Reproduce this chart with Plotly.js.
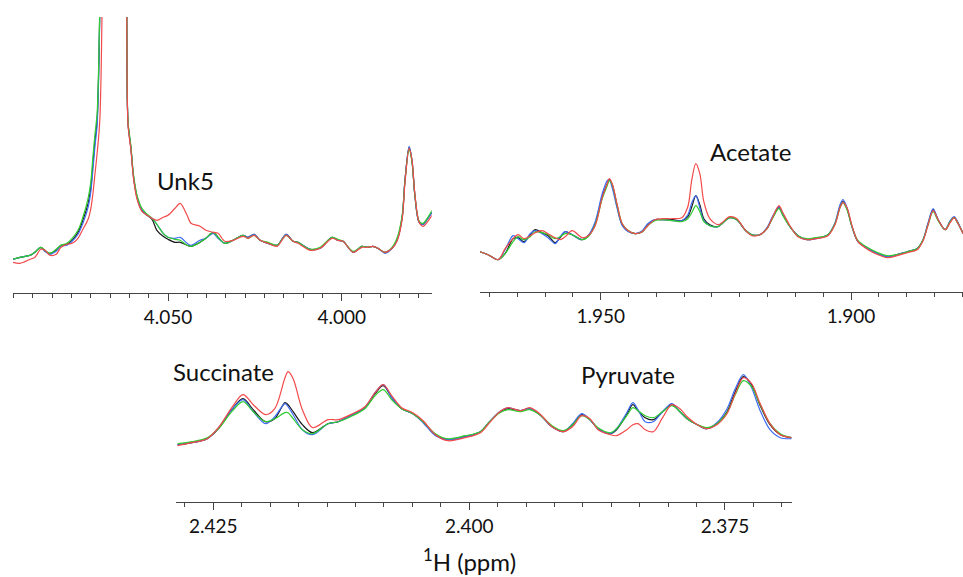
<!DOCTYPE html>
<html>
<head>
<meta charset="utf-8">
<script src="https://cdn.plot.ly/plotly-3.0.1.min.js"></script>
<style>
html,body{margin:0;padding:0;background:#fff;}
#chart{width:963px;height:577px;}
</style>
</head>
<body>
<div id="chart"></div>
<script>
// ---------- Panel 1 : 4.09 – 3.97 ppm (Unk5) ----------
const p1_ppm = [4.0946,4.0926,4.0897,4.0883,4.0866,4.0854,4.0840,4.0822,4.0808,4.0791,4.0776,4.0759,4.0745,4.0730,4.0722,4.0716,4.0710,4.0704,4.0696,4.0684,4.0658,4.0632,4.0619,4.0615,4.0607,4.0599,4.0589,4.0575,4.0560,4.0546,4.0532,4.0514,4.0500,4.0480,4.0465,4.0445,4.0434,4.0408,4.0391,4.0370,4.0356,4.0336,4.0313,4.0284,4.0270,4.0252,4.0235,4.0212,4.0186,4.0160,4.0140,4.0126,4.0091,4.0062,4.0028,4.0011,3.9996,3.9967,3.9942,3.9927,3.9910,3.9896,3.9875,3.9855,3.9841,3.9826,3.9818,3.9806,3.9798,3.9789,3.9777,3.9766,3.9752,3.9740];
const p1_black = [34,36,38,41,46,42,40,43,48,49,53,61,73,90,106,130,153,173,290,700,3000,700,285,170,146,116,96,83,78,74,63,57,54,51,51,48,47,51,55,61,56,50,53,58,56,59,53,50,48,59,52,51,44,45,56,53,52,41,47,46,47,45,41,45,53,76,113,146,133,96,71,69,75,81];
const p1_blue  = [34,36,38,41,46,42,39,42,47,48,52,59,70,86,102,124,148,168,285,700,3000,700,285,170,146,116,96,83,78,75,69,60,56,55,56,50,48,53,55,60,55,50,53,58,56,59,53,50,48,59,52,51,44,45,56,53,52,41,47,46,47,45,40,45,53,76,113,147,134,97,71,69,75,81];
const p1_green = [34,36,38,41,46,43,40,44,48,50,55,63,76,95,112,137,160,180,295,700,3000,700,290,172,148,118,98,85,79,75,69,60,56,54,53,48,47,51,55,61,56,50,53,58,55,58,53,51,48,58,52,51,44,46,56,54,52,42,47,46,47,45,41,46,55,78,112,144,132,97,72,70,76,83];
const p1_red   = [31,30,34,36,44,43,38,39,46,49,50,55,64,74,85,100,120,140,175,500,3000,700,285,168,144,114,94,82,78,75,73,76,78,85,90,78,70,67,63,61,60,52,53,57,55,58,53,50,47,58,52,50,43,45,55,53,52,41,46,46,47,45,41,45,52,74,110,145,134,98,71,67,72,78];

// ---------- Panel 2 : 1.974 – 1.878 ppm (Acetate) ----------
const p2_ppm = [1.9741,1.9725,1.9705,1.9691,1.9675,1.9665,1.9653,1.9641,1.9631,1.9617,1.9605,1.9591,1.9581,1.9571,1.9557,1.9537,1.9525,1.9511,1.9497,1.9487,1.9483,1.9477,1.9467,1.9457,1.9445,1.9431,1.9417,1.9406,1.9392,1.9376,1.9356,1.9338,1.9326,1.9318,1.9310,1.9302,1.9294,1.9282,1.9266,1.9258,1.9242,1.9228,1.9212,1.9198,1.9182,1.9168,1.9156,1.9144,1.9136,1.9122,1.9106,1.9088,1.9072,1.9046,1.9032,1.9022,1.9016,1.9008,1.8998,1.8986,1.8966,1.8946,1.8928,1.8908,1.8888,1.8868,1.8856,1.8846,1.8836,1.8826,1.8812,1.8802,1.8794,1.8786,1.8776];
const p2_black = [40,37,32,38,53,54,50,57,62,59,56,49,54,60,57,52,56,68,95,108,112,107,85,67,61,58,60,67,72,72,72,71,75,85,96,87,73,67,65,68,74,72,62,57,57,63,75,84,77,65,56,52,53,57,68,85,90,83,65,50,43,38,35,37,40,43,52,68,82,72,62,70,74,68,58];
const p2_blue  = [40,37,32,42,56,53,49,58,61,58,54,48,55,60,57,52,56,70,98,111,112,104,83,66,60,58,61,68,72,72,71,71,77,89,96,84,71,66,65,68,74,72,62,57,57,64,76,85,77,65,56,52,53,57,69,87,92,84,65,50,43,38,35,37,40,43,52,69,83,72,62,71,75,69,58];
const p2_green = [40,37,32,38,50,55,52,55,60,59,57,53,55,58,57,52,55,67,93,106,111,107,86,68,61,58,60,66,71,72,71,70,73,79,86,80,70,66,65,68,74,72,62,57,57,63,74,83,76,65,56,53,54,57,68,84,89,82,65,51,44,39,36,37,40,43,52,67,80,71,62,70,74,68,58];
const p2_red   = [40,37,32,43,53,57,53,56,59,61,58,54,52,55,61,54,56,66,94,108,113,108,87,68,61,58,60,66,72,73,73,74,85,112,128,118,90,73,67,69,75,73,62,56,57,63,75,86,79,66,55,52,53,56,67,84,89,84,66,50,42,37,34,36,39,42,51,67,81,72,62,69,74,68,58];

// ---------- Panel 3 : 2.428 – 2.368 ppm (Succinate, Pyruvate) ----------
const p3_ppm = [2.4285,2.4271,2.4256,2.4245,2.4232,2.4221,2.4211,2.4199,2.4190,2.4180,2.4177,2.4172,2.4163,2.4153,2.4138,2.4128,2.4114,2.4102,2.4092,2.4084,2.4075,2.4066,2.4055,2.4045,2.4033,2.4021,2.4004,2.3989,2.3980,2.3970,2.3962,2.3950,2.3941,2.3931,2.3919,2.3908,2.3899,2.3890,2.3882,2.3874,2.3862,2.3856,2.3846,2.3840,2.3835,2.3828,2.3820,2.3811,2.3802,2.3794,2.3787,2.3777,2.3768,2.3758,2.3748,2.3740,2.3732,2.3724,2.3716,2.3706,2.3696,2.3685];
const p3_black = [57,59,63,73,92,103,92,80,83,99,97,90,77,69,78,80,87,94,108,116,103,93,88,80,67,62,65,70,80,90,93,91,93,87,75,70,77,87,82,73,68,72,87,97,91,84,82,90,97,90,83,77,73,78,90,110,125,117,97,77,67,64];
const p3_blue  = [57,59,63,74,92,102,90,78,85,98,95,87,72,67,78,80,87,94,109,117,103,93,88,79,66,62,65,70,80,90,94,91,93,87,75,70,78,88,82,73,68,73,89,99,92,80,80,90,98,90,83,77,73,79,93,113,127,114,92,72,64,63];
const p3_green = [58,60,64,73,90,100,90,80,83,89,89,83,72,68,78,80,86,93,106,112,101,93,88,80,68,63,66,70,80,89,92,90,92,87,76,71,77,86,82,74,69,73,86,94,91,86,84,90,96,90,83,77,74,78,89,107,121,115,98,78,68,64];
const p3_red   = [56,59,63,74,94,107,97,87,93,124,130,123,92,74,82,82,88,95,109,117,105,94,89,81,67,61,64,69,79,90,94,91,94,88,75,70,75,86,83,72,67,66,72,77,78,72,70,84,97,93,85,77,73,77,88,108,124,118,99,78,67,64];

const colors = {black:'#1a1a1a', blue:'#3d6cf2', green:'#2ecc2e', red:'#f24a4a'};
const lw = 1.2;

function traces(ppm, series, xa, ya){
  const order = [['black',series.black],['blue',series.blue],['green',series.green],['red',series.red]];
  return order.map(([c,v]) => ({
    x: ppm, y: v, xaxis: xa, yaxis: ya, type:'scatter', mode:'lines',
    line:{color:colors[c], width:lw, shape:'spline', smoothing:0.9},
    hoverinfo:'skip', showlegend:false
  }));
}

const data = [].concat(
  traces(p1_ppm, {black:p1_black, blue:p1_blue, green:p1_green, red:p1_red}, 'x', 'y'),
  traces(p2_ppm, {black:p2_black, blue:p2_blue, green:p2_green, red:p2_red}, 'x2', 'y2'),
  traces(p3_ppm, {black:p3_black, blue:p3_blue, green:p3_green, red:p3_red}, 'x3', 'y3')
);

const W = 963, H = 577;
const tickFont = {family:'Lato, "Open Sans", sans-serif', size:19, color:'#111'};
function xaxis(left, right, r0, r1, t0, dt, anchor){
  return {
    domain:[left/W, right/W], range:[r0, r1], anchor: anchor,
    showline:true, linecolor:'#444', linewidth:1,
    ticks:'outside', ticklen:7, tickcolor:'#444', tickwidth:1,
    tick0:t0, dtick:dt, tickformat:'.3f', tickfont:tickFont, ticklabelstandoff:0,
    minor:{ticks:'outside', ticklen:4, tickcolor:'#444', tickwidth:1, tick0:t0, dtick:dt/9},
    showgrid:false, zeroline:false, fixedrange:true
  };
}
function yaxis(bottom, top, rmax, anchor){
  return {domain:[1-bottom/H, 1-top/H], range:[0, rmax], visible:false, anchor:anchor, fixedrange:true};
}

const annFont = {family:'Lato, "Open Sans", sans-serif', size:24, color:'#111'};
function ann(text, px, py){
  return {text:text, xref:'paper', yref:'paper', x:px/W, y:1-py/H, xanchor:'center', yanchor:'middle', showarrow:false, font:annFont};
}

const layout = {
  width:W, height:H, margin:{l:0,r:0,t:0,b:0},
  paper_bgcolor:'#fff', plot_bgcolor:'#fff', showlegend:false,
  xaxis: xaxis(12.7, 431.7, 4.0947, 3.9741, 4.0, 0.05, 'y'),
  yaxis: yaxis(293.3, 17, 276.3, 'x'),
  xaxis2: xaxis(480, 963, 1.97411, 1.87763, 1.9, 0.05, 'y2'),
  yaxis2: yaxis(291.7, 17, 274.7, 'x2'),
  xaxis3: xaxis(176, 791.7, 2.42865, 2.36848, 2.4, 0.025, 'y3'),
  yaxis3: yaxis(501.7, 350, 151.7, 'x3'),
  annotations:[
    ann('Unk5', 185.5, 180),
    ann('Acetate', 750.7, 151),
    ann('Succinate', 223.3, 371),
    ann('Pyruvate', 628, 374),
    ann('<sup>1</sup>H (ppm)', 469, 560)
  ]
};

Plotly.newPlot('chart', data, layout, {displayModeBar:false, staticPlot:true});
</script>
</body>
</html>
